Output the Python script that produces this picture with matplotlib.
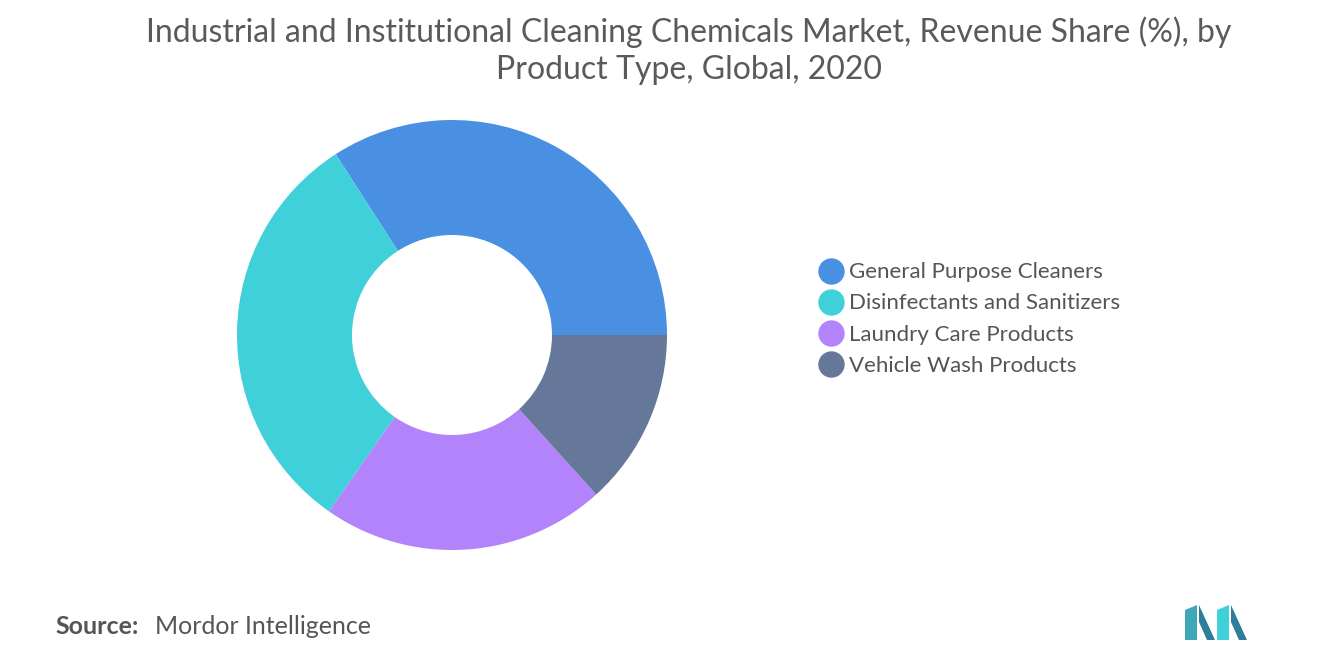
import matplotlib
matplotlib.use("Agg")
import matplotlib.pyplot as plt
from matplotlib.lines import Line2D
from matplotlib.patches import Polygon

categories = ["General Purpose Cleaners", "Disinfectants and Sanitizers",
              "Laundry Care Products", "Vehicle Wash Products"]
shares = [34.1, 31.2, 21.4, 13.3]
colors = ["#4A90E2", "#3FD0D9", "#B383FC", "#657899"]

plt.rcParams["font.family"] = "Lato"

fig = plt.figure(figsize=(13.2, 6.65), dpi=100)

ax = fig.add_axes([237 / 1320, 115 / 665, 430 / 1320, 430 / 665])
ax.pie(shares, colors=colors, startangle=0, counterclock=True,
       wedgeprops=dict(width=115 / 215, linewidth=0))
ax.set_xlim(-1, 1)
ax.set_ylim(-1, 1)
ax.set_aspect("equal")

fig.text(0.522, 0.975, "Industrial and Institutional Cleaning Chemicals Market, Revenue Share (%), by\nProduct Type, Global, 2020",
         ha="center", va="top", fontsize=23, color="#5a5a5a", linespacing=1.3)

handles = [Line2D([], [], marker="o", ls="", markersize=18, color=c) for c in colors]
fig.legend(handles, categories, loc="center left", bbox_to_anchor=(800 / 1320, 1 - 319 / 665),
           frameon=False, fontsize=16, labelcolor="#555555", handletextpad=-0.2,
           labelspacing=0.5, borderaxespad=0)

fig.text(55 / 1320, 1 - 627 / 665, "Source:", fontsize=18, fontweight="bold",
         color="#555555", va="center")
fig.text(155 / 1320, 1 - 627 / 665, "Mordor Intelligence", fontsize=18,
         color="#555555", va="center")

# logo
lax = fig.add_axes([1185 / 1320, 1 - 640 / 665, 65 / 1320, 35 / 665])
lax.set_xlim(0, 65)
lax.set_ylim(0, 35)
lax.axis("off")
for pts, c in [([(0, 0), (0, 30), (12, 35), (12, 0)], "#3FA7B5"),
               ([(14, 35), (30, 0), (22, 0), (14, 18)], "#2E7D9A"),
               ([(32, 0), (32, 30), (44, 35), (44, 0)], "#3FD0D9"),
               ([(46, 35), (62, 0), (54, 0), (46, 18)], "#2E7D9A")]:
    lax.add_patch(Polygon(pts, closed=True, color=c, lw=0))

fig.savefig("out.png", dpi=100)
